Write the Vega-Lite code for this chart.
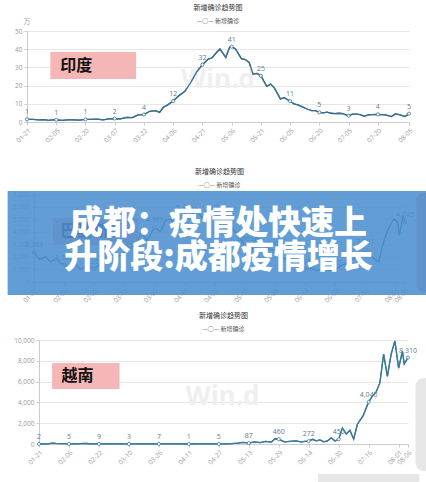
{
"$schema": "https://vega.github.io/schema/vega-lite/v6.json",
"padding": {"top": 3, "left": 0, "right": 0, "bottom": 0},
"background": "white",
"config": {
  "view": {"stroke": null},
  "font": "Noto Sans",
  "axis": {"labelFont": "Open Sans", "labelFontSize": 6.5, "labelColor": "#9a9a9a", "domainColor": "#cccccc", "tickColor": "#cccccc", "tickSize": 3, "gridColor": "#e6e6e6", "title": null, "labelPadding": 2, "labelOverlap": false, "labelFlush": false},
  "title": {"font": "Noto Sans CJK SC", "fontSize": 7, "fontWeight": "normal", "color": "#333333", "subtitleFont": "Noto Sans CJK SC", "subtitleFontSize": 6, "subtitleColor": "#555555", "anchor": "middle", "offset": 5, "subtitlePadding": 7}
},
"datasets": {
  "india": [
    {"date":"2021-01-21","v":1.45},{"date":"2021-01-24","v":1.4},{"date":"2021-01-27","v":1.2},{"date":"2021-01-30","v":1.3},{"date":"2021-02-01","v":0.9},{"date":"2021-02-03","v":1.2},{"date":"2021-02-05","v":1.2},{"date":"2021-02-08","v":0.9},{"date":"2021-02-11","v":1.2},{"date":"2021-02-14","v":1.2},{"date":"2021-02-17","v":1.0},{"date":"2021-02-20","v":1.4},{"date":"2021-02-23","v":1.4},{"date":"2021-02-26","v":1.6},{"date":"2021-03-01","v":1.2},{"date":"2021-03-04","v":1.7},{"date":"2021-03-07","v":1.9},{"date":"2021-03-10","v":1.7},{"date":"2021-03-13","v":2.5},{"date":"2021-03-16","v":2.4},{"date":"2021-03-19","v":3.9},{"date":"2021-03-22","v":4.1},{"date":"2021-03-25","v":5.9},{"date":"2021-03-28","v":6.2},{"date":"2021-03-30","v":5.3},{"date":"2021-04-01","v":8.1},{"date":"2021-04-03","v":9.3},{"date":"2021-04-06","v":11.5},{"date":"2021-04-09","v":14.5},{"date":"2021-04-12","v":16.9},{"date":"2021-04-15","v":21.7},{"date":"2021-04-18","v":27.4},{"date":"2021-04-21","v":31.5},{"date":"2021-04-24","v":34.6},{"date":"2021-04-26","v":35.3},{"date":"2021-04-28","v":37.9},{"date":"2021-04-30","v":40.1},{"date":"2021-05-03","v":35.5},{"date":"2021-05-05","v":41.2},{"date":"2021-05-06","v":41.4},{"date":"2021-05-08","v":40.1},{"date":"2021-05-11","v":34.8},{"date":"2021-05-13","v":34.3},{"date":"2021-05-15","v":32.7},{"date":"2021-05-17","v":26.3},{"date":"2021-05-19","v":26.7},{"date":"2021-05-21","v":25.4},{"date":"2021-05-24","v":19.6},{"date":"2021-05-26","v":20.8},{"date":"2021-05-28","v":18.6},{"date":"2021-05-31","v":12.7},{"date":"2021-06-02","v":13.4},{"date":"2021-06-05","v":11.4},{"date":"2021-06-07","v":10.0},{"date":"2021-06-09","v":9.4},{"date":"2021-06-11","v":8.4},{"date":"2021-06-14","v":7.0},{"date":"2021-06-16","v":6.2},{"date":"2021-06-18","v":6.2},{"date":"2021-06-20","v":5.3},{"date":"2021-06-22","v":5.0},{"date":"2021-06-24","v":5.4},{"date":"2021-06-26","v":4.8},{"date":"2021-06-28","v":4.6},{"date":"2021-06-30","v":4.8},{"date":"2021-07-02","v":4.6},{"date":"2021-07-05","v":3.4},{"date":"2021-07-07","v":4.3},{"date":"2021-07-09","v":4.3},{"date":"2021-07-11","v":4.1},{"date":"2021-07-13","v":3.1},{"date":"2021-07-15","v":3.9},{"date":"2021-07-17","v":4.1},{"date":"2021-07-20","v":4.2},{"date":"2021-07-22","v":4.1},{"date":"2021-07-24","v":3.9},{"date":"2021-07-27","v":3.0},{"date":"2021-07-29","v":4.4},{"date":"2021-07-31","v":4.1},{"date":"2021-08-03","v":3.0},{"date":"2021-08-05","v":4.6}
  ],
  "india_lab": [
    {"date":"2021-01-21","v":1.45},{"date":"2021-02-05","v":1.2},{"date":"2021-02-20","v":1.4},{"date":"2021-03-07","v":1.9},{"date":"2021-03-22","v":4.1},{"date":"2021-04-06","v":11.5},{"date":"2021-04-21","v":31.5},{"date":"2021-05-06","v":41.4},{"date":"2021-05-21","v":25.4},{"date":"2021-06-05","v":11.4},{"date":"2021-06-20","v":5.3},{"date":"2021-07-05","v":3.4},{"date":"2021-07-20","v":4.2},{"date":"2021-08-05","v":4.6}
  ],
  "pak": [
    {"date":"2021-01-21","v":2363},{"date":"2021-01-24","v":1800},{"date":"2021-01-27","v":2000},{"date":"2021-01-30","v":1600},{"date":"2021-02-02","v":1900},{"date":"2021-02-04","v":1500},{"date":"2021-02-06","v":1388},{"date":"2021-02-09","v":1100},{"date":"2021-02-12","v":1400},{"date":"2021-02-15","v":1000},{"date":"2021-02-18","v":1300},{"date":"2021-02-22","v":1053},{"date":"2021-02-25","v":1400},{"date":"2021-02-28","v":1600},{"date":"2021-03-03","v":1800},{"date":"2021-03-06","v":2000},{"date":"2021-03-10","v":2253},{"date":"2021-03-13","v":2700},{"date":"2021-03-16","v":3000},{"date":"2021-03-19","v":3900},{"date":"2021-03-22","v":3300},{"date":"2021-03-26","v":4368},{"date":"2021-03-29","v":4000},{"date":"2021-04-01","v":4900},{"date":"2021-04-04","v":5000},{"date":"2021-04-07","v":4000},{"date":"2021-04-11","v":5329},{"date":"2021-04-14","v":5000},{"date":"2021-04-17","v":5900},{"date":"2021-04-20","v":5100},{"date":"2021-04-23","v":5800},{"date":"2021-04-27","v":5292},{"date":"2021-04-30","v":4500},{"date":"2021-05-03","v":4200},{"date":"2021-05-06","v":4300},{"date":"2021-05-09","v":3800},{"date":"2021-05-13","v":2869},{"date":"2021-05-16","v":2200},{"date":"2021-05-19","v":3600},{"date":"2021-05-22","v":3200},{"date":"2021-05-25","v":2700},{"date":"2021-05-29","v":2455},{"date":"2021-06-01","v":2000},{"date":"2021-06-04","v":1800},{"date":"2021-06-07","v":1400},{"date":"2021-06-10","v":1200},{"date":"2021-06-14","v":1043},{"date":"2021-06-17","v":1100},{"date":"2021-06-20","v":900},{"date":"2021-06-24","v":1000},{"date":"2021-06-27","v":900},{"date":"2021-06-30","v":935},{"date":"2021-07-03","v":1300},{"date":"2021-07-06","v":1500},{"date":"2021-07-09","v":1800},{"date":"2021-07-12","v":2100},{"date":"2021-07-16","v":2587},{"date":"2021-07-19","v":2100},{"date":"2021-07-21","v":1800},{"date":"2021-07-23","v":1600},{"date":"2021-07-26","v":3400},{"date":"2021-07-28","v":4200},{"date":"2021-07-31","v":5000},{"date":"2021-08-02","v":4800},{"date":"2021-08-03","v":3700},{"date":"2021-08-05","v":5300},{"date":"2021-08-06","v":4745}
  ],
  "pak_lab": [
    {"date":"2021-01-21","v":2363},{"date":"2021-02-06","v":1388},{"date":"2021-02-22","v":1053},{"date":"2021-03-10","v":2253},{"date":"2021-03-26","v":4368},{"date":"2021-04-11","v":5329},{"date":"2021-04-27","v":5292},{"date":"2021-05-13","v":2869},{"date":"2021-05-29","v":2455},{"date":"2021-06-14","v":1043},{"date":"2021-06-30","v":935},{"date":"2021-07-16","v":2587},{"date":"2021-08-06","v":4745}
  ],
  "vn": [
    {"date":"2021-01-21","v":2},{"date":"2021-01-24","v":3},{"date":"2021-01-26","v":5},{"date":"2021-01-28","v":84},{"date":"2021-01-30","v":52},{"date":"2021-02-01","v":40},{"date":"2021-02-03","v":30},{"date":"2021-02-06","v":5},{"date":"2021-02-09","v":20},{"date":"2021-02-12","v":30},{"date":"2021-02-15","v":50},{"date":"2021-02-18","v":20},{"date":"2021-02-22","v":9},{"date":"2021-02-26","v":10},{"date":"2021-03-02","v":8},{"date":"2021-03-06","v":5},{"date":"2021-03-10","v":3},{"date":"2021-03-14","v":5},{"date":"2021-03-18","v":6},{"date":"2021-03-22","v":4},{"date":"2021-03-26","v":7},{"date":"2021-03-30","v":5},{"date":"2021-04-03","v":4},{"date":"2021-04-07","v":3},{"date":"2021-04-11","v":1},{"date":"2021-04-15","v":8},{"date":"2021-04-19","v":5},{"date":"2021-04-23","v":4},{"date":"2021-04-27","v":5},{"date":"2021-05-01","v":10},{"date":"2021-05-04","v":40},{"date":"2021-05-07","v":80},{"date":"2021-05-10","v":150},{"date":"2021-05-13","v":87},{"date":"2021-05-16","v":200},{"date":"2021-05-19","v":130},{"date":"2021-05-22","v":250},{"date":"2021-05-25","v":180},{"date":"2021-05-27","v":500},{"date":"2021-05-29","v":460},{"date":"2021-06-01","v":200},{"date":"2021-06-04","v":250},{"date":"2021-06-07","v":300},{"date":"2021-06-10","v":200},{"date":"2021-06-12","v":250},{"date":"2021-06-14","v":272},{"date":"2021-06-16","v":450},{"date":"2021-06-18","v":300},{"date":"2021-06-20","v":400},{"date":"2021-06-22","v":200},{"date":"2021-06-24","v":300},{"date":"2021-06-26","v":600},{"date":"2021-06-28","v":300},{"date":"2021-06-30","v":450},{"date":"2021-07-02","v":1540},{"date":"2021-07-04","v":960},{"date":"2021-07-06","v":1300},{"date":"2021-07-08","v":480},{"date":"2021-07-10","v":1900},{"date":"2021-07-13","v":2700},{"date":"2021-07-16","v":4046},{"date":"2021-07-18","v":4600},{"date":"2021-07-20","v":5000},{"date":"2021-07-22","v":5900},{"date":"2021-07-24","v":8650},{"date":"2021-07-26","v":6500},{"date":"2021-07-28","v":8650},{"date":"2021-07-30","v":9900},{"date":"2021-08-01","v":7300},{"date":"2021-08-03","v":8900},{"date":"2021-08-04","v":7700},{"date":"2021-08-06","v":8310}
  ],
  "vn_lab": [
    {"date":"2021-01-21","v":2},{"date":"2021-02-06","v":5},{"date":"2021-02-22","v":9},{"date":"2021-03-10","v":3},{"date":"2021-03-26","v":7},{"date":"2021-04-11","v":1},{"date":"2021-04-27","v":5},{"date":"2021-05-13","v":87},{"date":"2021-05-29","v":460},{"date":"2021-06-14","v":272},{"date":"2021-06-30","v":450},{"date":"2021-07-16","v":4046},{"date":"2021-08-06","v":8310}
  ]
},
"spacing": 8,
"bounds": "full",
"vconcat": [
 {
  "spacing": 24,
  "bounds": "full",
  "vconcat": [
   {"spacing": 0, "bounds": "full", "hconcat": [
    {"width": 1, "height": 1, "data": {"values": [{}]}, "mark": {"type": "point", "opacity": 0}, "encoding": {}},
    {
    "width": 382, "height": 91,
    "title": {"text": "新增确诊趋势图", "subtitle": "—○— 新增确诊", "offset": -6},
    "layer": [
      {"data": {"name": "india"}, "mark": {"type": "line", "color": "#3a6f8f", "strokeWidth": 1.3},
       "encoding": {
        "x": {"field": "date", "type": "temporal",
          "scale": {"type": "utc", "domain": [{"year":2021,"month":1,"date":21,"utc":true},{"year":2021,"month":8,"date":5,"utc":true}]},
          "axis": {"format": "%m-%d", "labelAngle": -45, "labelOverlap": false, "labelFlush": false, "grid": false, "tickCount": 40,
            "values": [{"year":2021,"month":1,"date":21,"utc":true},{"year":2021,"month":2,"date":5,"utc":true},{"year":2021,"month":2,"date":20,"utc":true},{"year":2021,"month":3,"date":7,"utc":true},{"year":2021,"month":3,"date":22,"utc":true},{"year":2021,"month":4,"date":6,"utc":true},{"year":2021,"month":4,"date":21,"utc":true},{"year":2021,"month":5,"date":6,"utc":true},{"year":2021,"month":5,"date":21,"utc":true},{"year":2021,"month":6,"date":5,"utc":true},{"year":2021,"month":6,"date":20,"utc":true},{"year":2021,"month":7,"date":5,"utc":true},{"year":2021,"month":7,"date":20,"utc":true},{"year":2021,"month":8,"date":5,"utc":true}]}},
        "y": {"field": "v", "type": "quantitative", "scale": {"domain": [0, 50], "nice": false},
          "axis": {"values": [0, 10, 20, 30, 40, 50], "tickCount": 40, "labelOverlap": false, "grid": true}}
       }},
      {"data": {"values": [{}]}, "mark": {"type": "rect", "opacity": 0},
       "encoding": {"x": {"datum": {"year":2021,"month":1,"date":11,"utc":true}, "type": "temporal"}, "x2": {"datum": {"year":2021,"month":1,"date":21,"utc":true}}, "y": {"datum": 0, "type": "quantitative"}, "y2": {"datum": 1}}},
      {"data": {"values": [{}]}, "mark": {"type": "text", "text": "Win.d", "font": "Open Sans", "fontSize": 26, "fontWeight": "bold", "color": "#efefef", "align": "center", "baseline": "middle"},
       "encoding": {"x": {"datum": {"year":2021,"month":4,"date":29,"utc":true}, "type": "temporal"}, "y": {"datum": 23, "type": "quantitative"}}},
      {"data": {"values": [{}]}, "mark": {"type": "rect", "color": "#f4b6b6"},
       "encoding": {"x": {"datum": {"year":2021,"month":2,"date":2,"utc":true}, "type": "temporal"}, "x2": {"datum": {"year":2021,"month":3,"date":18,"utc":true}}, "y": {"datum": 38.5, "type": "quantitative"}, "y2": {"datum": 23.6}}},
      {"data": {"values": [{}]}, "mark": {"type": "text", "text": "印度", "font": "Noto Sans CJK SC", "fontSize": 16, "fontWeight": "bold", "color": "#111111", "align": "left", "baseline": "middle"},
       "encoding": {"x": {"datum": {"year":2021,"month":2,"date":7,"utc":true}, "type": "temporal"}, "y": {"datum": 31, "type": "quantitative"}}},
      {"data": {"values": [{}]}, "mark": {"type": "text", "text": "万", "font": "Noto Sans CJK SC", "fontSize": 7, "color": "#999999", "align": "center", "baseline": "middle"},
       "encoding": {"x": {"datum": {"year":2021,"month":1,"date":21,"utc":true}, "type": "temporal"}, "y": {"datum": 55.2, "type": "quantitative"}}},
      {"data": {"name": "india"}, "mark": {"type": "line", "color": "#3a6f8f", "strokeWidth": 1.3},
       "encoding": {"x": {"field": "date", "type": "temporal"}, "y": {"field": "v", "type": "quantitative"}}},
      {"data": {"name": "india_lab"}, "mark": {"type": "point", "shape": "circle", "filled": true, "fill": "white", "stroke": "#3a6f8f", "strokeWidth": 0.8, "size": 10, "opacity": 1},
       "encoding": {"x": {"field": "date", "type": "temporal"}, "y": {"field": "v", "type": "quantitative"}}},
      {"data": {"name": "india_lab"}, "mark": {"type": "text", "dy": -7, "fontSize": 7, "font": "Open Sans", "color": "#5a7d95"},
       "encoding": {"x": {"field": "date", "type": "temporal"}, "y": {"field": "v", "type": "quantitative"}, "text": {"field": "v", "type": "quantitative", "format": ".0f"}}}
    ]
   }]},
   {"spacing": 0, "bounds": "full", "hconcat": [
    {"width": 1, "height": 1, "data": {"values": [{}]}, "mark": {"type": "point", "opacity": 0}, "encoding": {}},
    {
    "width": 371, "height": 88,
    "title": {"text": "新增确诊趋势图", "subtitle": "—○— 新增确诊", "offset": 2.5},
    "layer": [
      {"data": {"name": "pak"}, "mark": {"type": "line", "color": "#3a6f8f", "strokeWidth": 1.3},
       "encoding": {
        "x": {"field": "date", "type": "temporal",
          "scale": {"type": "utc", "domain": [{"year":2021,"month":1,"date":21,"utc":true},{"year":2021,"month":8,"date":6,"utc":true}]},
          "axis": {"format": "%m-%d", "labelAngle": -45, "labelOverlap": false, "labelFlush": false, "grid": false, "tickCount": 40,
            "values": [{"year":2021,"month":1,"date":21,"utc":true},{"year":2021,"month":2,"date":6,"utc":true},{"year":2021,"month":2,"date":22,"utc":true},{"year":2021,"month":3,"date":10,"utc":true},{"year":2021,"month":3,"date":26,"utc":true},{"year":2021,"month":4,"date":11,"utc":true},{"year":2021,"month":4,"date":27,"utc":true},{"year":2021,"month":5,"date":13,"utc":true},{"year":2021,"month":5,"date":29,"utc":true},{"year":2021,"month":6,"date":14,"utc":true},{"year":2021,"month":6,"date":30,"utc":true},{"year":2021,"month":7,"date":16,"utc":true},{"year":2021,"month":8,"date":1,"utc":true},{"year":2021,"month":8,"date":6,"utc":true}]}},
        "y": {"field": "v", "type": "quantitative", "scale": {"domain": [0, 7000], "nice": false},
          "axis": {"values": [0, 1000, 2000, 3000, 4000, 5000, 6000, 7000], "tickCount": 40, "labelExpr": "format(datum.value, ',')", "labelOverlap": false, "grid": true}}
       }},
      {"data": {"values": [{}]}, "mark": {"type": "rect", "color": "#f4b6b6"},
       "encoding": {"x": {"datum": {"year":2021,"month":1,"date":31,"utc":true}, "type": "temporal"}, "x2": {"datum": {"year":2021,"month":3,"date":17,"utc":true}}, "y": {"datum": 5091, "type": "quantitative"}, "y2": {"datum": 2943}}},
      {"data": {"values": [{}]}, "mark": {"type": "text", "text": "巴基斯坦", "font": "Noto Sans CJK SC", "fontSize": 16, "fontWeight": "bold", "color": "#1a2a5a", "align": "left", "baseline": "middle"},
       "encoding": {"x": {"datum": {"year":2021,"month":2,"date":4,"utc":true}, "type": "temporal"}, "y": {"datum": 4057, "type": "quantitative"}}},
      {"data": {"name": "pak_lab"}, "mark": {"type": "point", "shape": "circle", "filled": true, "fill": "white", "stroke": "#3a6f8f", "strokeWidth": 0.8, "size": 10, "opacity": 1},
       "encoding": {"x": {"field": "date", "type": "temporal"}, "y": {"field": "v", "type": "quantitative"}}},
      {"data": {"name": "pak_lab"}, "mark": {"type": "text", "dy": -7, "fontSize": 7, "font": "Open Sans", "color": "#5a7d95"},
       "encoding": {"x": {"field": "date", "type": "temporal"}, "y": {"field": "v", "type": "quantitative"}, "text": {"field": "v", "type": "quantitative", "format": ","}}},
      {"data": {"values": [{}]}, "mark": {"type": "rect", "color": "#e3a2ab", "cornerRadiusTopLeft": 10, "cornerRadiusBottomLeft": 10},
       "encoding": {"x": {"datum": {"year":2021,"month":8,"date":12,"utc":true}, "type": "temporal"}, "x2": {"datum": {"year":2021,"month":8,"date":20,"utc":true}}, "y": {"datum": 7100, "type": "quantitative"}, "y2": {"datum": -800}}},
      {"data": {"values": [{}]}, "mark": {"type": "rect", "color": "#4b8fd0", "opacity": 0.87},
       "encoding": {"x": {"datum": {"year":2021,"month":1,"date":7,"utc":true}, "type": "temporal"}, "x2": {"datum": {"year":2021,"month":8,"date":20,"utc":true}}, "y": {"datum": 7239, "type": "quantitative"}, "y2": {"datum": -1034}}},
      {"data": {"values": [{}]}, "mark": {"type": "text", "text": "成都：疫情处快速上", "font": "Noto Sans CJK SC", "fontSize": 33, "fontWeight": 900, "color": "#ffffff", "align": "center", "baseline": "middle"},
       "encoding": {"x": {"datum": {"year":2021,"month":4,"date":29,"utc":true}, "type": "temporal"}, "y": {"datum": 4614, "type": "quantitative"}}},
      {"data": {"values": [{}]}, "mark": {"type": "text", "text": "升阶段:成都疫情增长", "font": "Noto Sans CJK SC", "fontSize": 33, "fontWeight": 900, "color": "#ffffff", "align": "center", "baseline": "middle"},
       "encoding": {"x": {"datum": {"year":2021,"month":4,"date":29,"utc":true}, "type": "temporal"}, "y": {"datum": 1909, "type": "quantitative"}}}
    ]
   }]}
  ]
 },
 {"spacing": 0, "bounds": "full", "hconcat": [
  {"width": 1, "height": 1, "data": {"values": [{}]}, "mark": {"type": "point", "opacity": 0}, "encoding": {}},
  {
  "width": 369, "height": 104,
  "title": {"text": "新增确诊趋势图", "subtitle": "—○— 新增确诊", "offset": 5},
  "layer": [
    {"data": {"name": "vn"}, "mark": {"type": "line", "color": "#3a7a96", "strokeWidth": 1.3},
     "encoding": {
      "x": {"field": "date", "type": "temporal",
        "scale": {"type": "utc", "domain": [{"year":2021,"month":1,"date":21,"utc":true},{"year":2021,"month":8,"date":6,"utc":true}]},
        "axis": {"format": "%m-%d", "labelAngle": -45, "labelOverlap": false, "labelFlush": false, "grid": false, "tickCount": 40,
          "values": [{"year":2021,"month":1,"date":21,"utc":true},{"year":2021,"month":2,"date":6,"utc":true},{"year":2021,"month":2,"date":22,"utc":true},{"year":2021,"month":3,"date":10,"utc":true},{"year":2021,"month":3,"date":26,"utc":true},{"year":2021,"month":4,"date":11,"utc":true},{"year":2021,"month":4,"date":27,"utc":true},{"year":2021,"month":5,"date":13,"utc":true},{"year":2021,"month":5,"date":29,"utc":true},{"year":2021,"month":6,"date":14,"utc":true},{"year":2021,"month":6,"date":30,"utc":true},{"year":2021,"month":7,"date":16,"utc":true},{"year":2021,"month":8,"date":1,"utc":true},{"year":2021,"month":8,"date":6,"utc":true}]}},
      "y": {"field": "v", "type": "quantitative", "scale": {"domain": [0, 10000], "nice": false},
        "axis": {"values": [0, 2000, 4000, 6000, 8000, 10000], "tickCount": 40, "labelExpr": "format(datum.value, ',')", "labelOverlap": false, "grid": true}}
     }},
    {"data": {"values": [{}]}, "mark": {"type": "rect", "color": "#e6e6e6", "cornerRadiusTopLeft": 12, "cornerRadiusBottomLeft": 12},
     "encoding": {"x": {"datum": {"year":2021,"month":8,"date":10,"utc":true}, "type": "temporal"}, "x2": {"datum": {"year":2021,"month":8,"date":19,"utc":true}}, "y": {"datum": 6346, "type": "quantitative"}, "y2": {"datum": -2596}}},
    {"data": {"values": [{}]}, "mark": {"type": "rect", "color": "#e6e6e6"},
     "encoding": {"x": {"datum": {"year":2021,"month":6,"date":19,"utc":true}, "type": "temporal"}, "x2": {"datum": {"year":2021,"month":8,"date":12,"utc":true}}, "y": {"datum": -2885, "type": "quantitative"}, "y2": {"datum": -3750}}},
    {"data": {"values": [{}]}, "mark": {"type": "rect", "opacity": 0},
     "encoding": {"x": {"datum": {"year":2021,"month":1,"date":4,"utc":true}, "type": "temporal"}, "x2": {"datum": {"year":2021,"month":1,"date":21,"utc":true}}, "y": {"datum": 0, "type": "quantitative"}, "y2": {"datum": 100}}},
    {"data": {"values": [{}]}, "mark": {"type": "text", "text": "Win.d", "font": "Open Sans", "fontSize": 26, "fontWeight": "bold", "color": "#efefef", "align": "center", "baseline": "middle"},
     "encoding": {"x": {"datum": {"year":2021,"month":4,"date":29,"utc":true}, "type": "temporal"}, "y": {"datum": 4519, "type": "quantitative"}}},
    {"data": {"values": [{}]}, "mark": {"type": "rect", "color": "#f4b6b6"},
     "encoding": {"x": {"datum": {"year":2021,"month":1,"date":28,"utc":true}, "type": "temporal"}, "x2": {"datum": {"year":2021,"month":3,"date":5,"utc":true}}, "y": {"datum": 7788, "type": "quantitative"}, "y2": {"datum": 5288}}},
    {"data": {"values": [{}]}, "mark": {"type": "text", "text": "越南", "font": "Noto Sans CJK SC", "fontSize": 16, "fontWeight": "bold", "color": "#111111", "align": "left", "baseline": "middle"},
     "encoding": {"x": {"datum": {"year":2021,"month":2,"date":2,"utc":true}, "type": "temporal"}, "y": {"datum": 6538, "type": "quantitative"}}},
    {"data": {"name": "vn"}, "mark": {"type": "line", "color": "#3a7a96", "strokeWidth": 1.3},
     "encoding": {"x": {"field": "date", "type": "temporal"}, "y": {"field": "v", "type": "quantitative"}}},
    {"data": {"name": "vn_lab"}, "mark": {"type": "point", "shape": "circle", "filled": true, "fill": "white", "stroke": "#3a7a96", "strokeWidth": 0.8, "size": 10, "opacity": 1},
     "encoding": {"x": {"field": "date", "type": "temporal"}, "y": {"field": "v", "type": "quantitative"}}},
    {"data": {"name": "vn_lab"}, "mark": {"type": "text", "dy": -7, "fontSize": 7, "font": "Open Sans", "color": "#5a7d95"},
     "encoding": {"x": {"field": "date", "type": "temporal"}, "y": {"field": "v", "type": "quantitative"}, "text": {"field": "v", "type": "quantitative", "format": ","}}}
  ]
 }]}
]
}
